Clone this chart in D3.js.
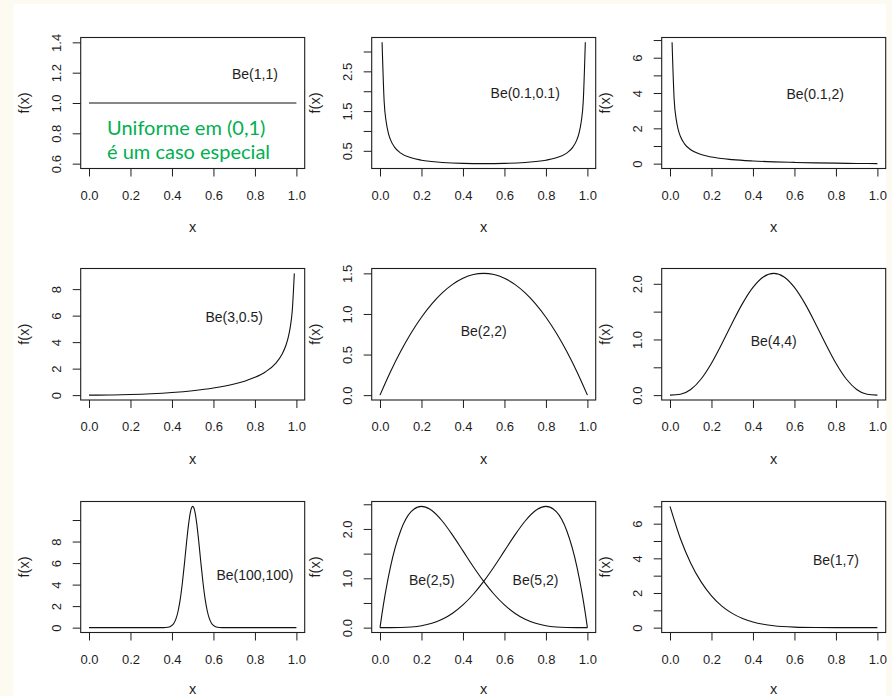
<!DOCTYPE html>
<html>
<head>
<meta charset="utf-8">
<script src="https://cdn.jsdelivr.net/npm/d3@7"></script>
<style>
  body { margin: 0; background: #fcfaf1; }
  svg { display: block; }
</style>
</head>
<body>
<div id="chart"></div>
<script>
// Data
const xTicks = [0, 0.2, 0.4, 0.6, 0.8, 1]
const xTickLabels = ['0.0', '0.2', '0.4', '0.6', '0.8', '1.0']

const be11X = [0, 1]
const be11Y = [1, 1]
const be11Ylim = [0.6, 1.4]
const be11Ticks = [0.6, 0.8, 1.0, 1.2, 1.4]
const be11Labels = ['0.6', '0.8', '1.0', '1.2', '1.4']

const be0101X = [0.01, 0.02, 0.03, 0.04, 0.05, 0.07, 0.1, 0.15, 0.2, 0.3, 0.4, 0.5, 0.6, 0.7, 0.8, 0.85, 0.9, 0.93, 0.95, 0.96, 0.97, 0.98, 0.99]
const be0101Y = [3.23, 1.747, 1.224, 0.954, 0.788, 0.593, 0.443, 0.324, 0.264, 0.207, 0.183, 0.177, 0.183, 0.207, 0.264, 0.324, 0.443, 0.593, 0.788, 0.954, 1.224, 1.747, 3.23]
const be0101Ticks = [0.5, 1, 1.5, 2, 2.5, 3]
const be0101Labels = ['0.5', '', '1.5', '', '2.5', '']

const be012X = [0.01, 0.02, 0.03, 0.04, 0.05, 0.07, 0.1, 0.15, 0.2, 0.3, 0.4, 0.5, 0.6, 0.7, 0.8, 0.9, 1]
const be012Y = [6.87, 3.645, 2.504, 1.913, 1.549, 1.12, 0.786, 0.516, 0.375, 0.228, 0.151, 0.103, 0.07, 0.046, 0.027, 0.012, 0]
const be012Ticks = [0, 1, 2, 3, 4, 5, 6, 7]
const be012Labels = ['0', '', '2', '', '4', '', '6', '']

const be305X = [0, 0.1, 0.2, 0.3, 0.4, 0.5, 0.6, 0.7, 0.75, 0.8, 0.85, 0.9, 0.93, 0.95, 0.96, 0.97, 0.98, 0.99]
const be305Y = [0, 0.01, 0.042, 0.101, 0.194, 0.332, 0.534, 0.839, 1.055, 1.342, 1.749, 2.401, 3.065, 3.784, 4.32, 5.093, 6.367, 9.19]
const be305Ticks = [0, 2, 4, 6, 8]
const be305Labels = ['0', '2', '4', '6', '8']

const be22X = [0, 0.05, 0.1, 0.15, 0.2, 0.25, 0.3, 0.35, 0.4, 0.45, 0.5, 0.55, 0.6, 0.65, 0.7, 0.75, 0.8, 0.85, 0.9, 0.95, 1]
const be22Y = [0, 0.285, 0.54, 0.765, 0.96, 1.125, 1.26, 1.365, 1.44, 1.485, 1.5, 1.485, 1.44, 1.365, 1.26, 1.125, 0.96, 0.765, 0.54, 0.285, 0]
const be22Ticks = [0, 0.5, 1, 1.5]
const be22Labels = ['0.0', '0.5', '1.0', '1.5']

const be44X = [0, 0.05, 0.1, 0.15, 0.2, 0.25, 0.3, 0.35, 0.4, 0.45, 0.5, 0.55, 0.6, 0.65, 0.7, 0.75, 0.8, 0.85, 0.9, 0.95, 1]
const be44Y = [0, 0.015, 0.102, 0.29, 0.573, 0.923, 1.297, 1.648, 1.935, 2.123, 2.1875, 2.123, 1.935, 1.648, 1.297, 0.923, 0.573, 0.29, 0.102, 0.015, 0]
const be44Ticks = [0, 0.5, 1, 1.5, 2]
const be44Labels = ['0.0', '', '1.0', '', '2.0']

const be100X = [0, 0.35, 0.36, 0.37, 0.38, 0.39, 0.4, 0.41, 0.42, 0.43, 0.44, 0.45, 0.46, 0.47, 0.48, 0.49, 0.5,
  0.51, 0.52, 0.53, 0.54, 0.55, 0.56, 0.57, 0.58, 0.59, 0.6, 0.61, 0.62, 0.63, 0.64, 0.65, 1]
const be100Y = [0, 0.001, 0.004, 0.013, 0.035, 0.087, 0.203, 0.44, 0.861, 1.57, 2.65, 4.13, 5.92, 7.85, 9.6, 10.83, 11.27,
  10.83, 9.6, 7.85, 5.92, 4.13, 2.65, 1.57, 0.861, 0.44, 0.203, 0.087, 0.035, 0.013, 0.004, 0.001, 0]
const be100Ticks = [0, 2, 4, 6, 8, 10]
const be100Labels = ['0', '2', '4', '6', '8', '']

const be25X = [0, 0.01, 0.025, 0.05, 0.1, 0.15, 0.2, 0.25, 0.3, 0.35, 0.4, 0.45, 0.5, 0.55, 0.6, 0.65, 0.7, 0.75, 0.8, 0.85, 0.9, 0.95, 1]
const be25Y = [0, 0.288, 0.678, 1.222, 1.968, 2.349, 2.458, 2.373, 2.161, 1.874, 1.555, 1.235, 0.938, 0.677, 0.461, 0.293, 0.17, 0.088, 0.038, 0.013, 0.003, 0.0002, 0]
const be52X = [0, 0.05, 0.1, 0.15, 0.2, 0.25, 0.3, 0.35, 0.4, 0.45, 0.5, 0.55, 0.6, 0.65, 0.7, 0.75, 0.8, 0.85, 0.9, 0.95, 0.975, 0.99, 1]
const be52Y = [0, 0.0002, 0.003, 0.013, 0.038, 0.088, 0.17, 0.293, 0.461, 0.677, 0.938, 1.235, 1.555, 1.874, 2.161, 2.373, 2.458, 2.349, 1.968, 1.222, 0.678, 0.288, 0]
const be25Ticks = [0, 0.5, 1, 1.5, 2, 2.5]
const be25Labels = ['0.0', '', '1.0', '', '2.0', '']

const be17X = [0, 0.05, 0.1, 0.15, 0.2, 0.25, 0.3, 0.35, 0.4, 0.45, 0.5, 0.6, 0.7, 0.8, 1]
const be17Y = [7, 5.146, 3.72, 2.64, 1.835, 1.246, 0.824, 0.528, 0.327, 0.194, 0.109, 0.029, 0.005, 0.0004, 0]
const be17Ticks = [0, 1, 2, 3, 4, 5, 6, 7]
const be17Labels = ['0', '', '2', '', '4', '', '6', '']

// curve names and where they sit (data coords)
const noteText = ['Be(1,1)', 'Be(0.1,0.1)', 'Be(0.1,2)', 'Be(3,0.5)', 'Be(2,2)', 'Be(4,4)', 'Be(100,100)', 'Be(2,5)', 'Be(5,2)', 'Be(1,7)']
const noteX = [0.8, 0.7, 0.7, 0.7, 0.5, 0.5, 0.8, 0.25, 0.75, 0.8]
const noteY = [1.2, 2, 4, 6, 0.8, 1, 5, 1, 1, 4]
const notePanel = [0, 1, 2, 3, 4, 5, 6, 7, 7, 8]

const greenLines = ['Uniforme em (0,1)', 'é um caso especial']
const greenY = [0.836, 0.68]

function draw() {
  // Dimensions
  const dimensions = {
    width: 892,
    height: 696,
    colLefts: [80.7, 371.7, 661.7],
    boxWidth: 224,
    rowTops: [37.5, 268.5, 501.5],
    rowBottoms: [168.5, 400, 632.5]
  }

  const panels = [
    { series: [[be11X, be11Y]], ylim: be11Ylim, ticks: be11Ticks, labels: be11Labels },
    { series: [[be0101X, be0101Y]], ticks: be0101Ticks, labels: be0101Labels },
    { series: [[be012X, be012Y]], ticks: be012Ticks, labels: be012Labels },
    { series: [[be305X, be305Y]], ticks: be305Ticks, labels: be305Labels },
    { series: [[be22X, be22Y]], ticks: be22Ticks, labels: be22Labels },
    { series: [[be44X, be44Y]], ticks: be44Ticks, labels: be44Labels },
    { series: [[be100X, be100Y]], ticks: be100Ticks, labels: be100Labels },
    { series: [[be25X, be25Y], [be52X, be52Y]], ticks: be25Ticks, labels: be25Labels },
    { series: [[be17X, be17Y]], ticks: be17Ticks, labels: be17Labels }
  ]

  const svg = d3.select('#chart')
    .append('svg')
    .attr('width', dimensions.width)
    .attr('height', dimensions.height)

  svg.append('rect')
    .attr('x', 13.5)
    .attr('y', 4)
    .attr('width', 872.5)
    .attr('height', dimensions.height - 4)
    .attr('fill', 'white')

  const ink = '#1e1e1e'
  const font = "'Liberation Sans', Arial, sans-serif"

  panels.forEach((p, i) => {
    const left = dimensions.colLefts[i % 3]
    const right = left + dimensions.boxWidth
    const top = dimensions.rowTops[Math.floor(i / 3)]
    const bottom = dimensions.rowBottoms[Math.floor(i / 3)]

    // Scales (R style: 4% padding)
    const xScale = d3.scaleLinear()
      .domain([-0.04, 1.04])
      .range([left, right])

    const ext = p.ylim || d3.extent(p.series.flatMap(s => s[1]))
    const pad = (ext[1] - ext[0]) * 0.04
    const yScale = d3.scaleLinear()
      .domain([ext[0] - pad, ext[1] + pad])
      .range([bottom, top])

    const g = svg.append('g')

    // Curves
    const lineGenerator = d3.line()
      .x(d => xScale(d[0]))
      .y(d => yScale(d[1]))
      .curve(d3.curveMonotoneX)

    p.series.forEach(s => {
      g.append('path')
        .datum(d3.zip(s[0], s[1]))
        .attr('d', lineGenerator)
        .attr('fill', 'none')
        .attr('stroke', '#111')
        .attr('stroke-width', 1.1)
    })

    // Axes
    const xAxis = d3.axisBottom(xScale)
      .tickValues(xTicks)
      .tickFormat((d, k) => xTickLabels[k])
      .tickSize(8)

    const xAxisGroup = g.append('g')
      .attr('transform', `translate(0,${bottom})`)
      .call(xAxis)
      .attr('font-family', font)
      .attr('font-size', 13)
      .attr('color', ink)
    xAxisGroup.select('.domain').remove()
    xAxisGroup.selectAll('text')
      .attr('y', 26.5)
      .attr('dy', '0.36em')

    const yAxis = d3.axisLeft(yScale)
      .tickValues(p.ticks)
      .tickFormat((d, k) => p.labels[k])
      .tickSize(8)

    const yAxisGroup = g.append('g')
      .attr('transform', `translate(${left},0)`)
      .call(yAxis)
      .attr('font-family', font)
      .attr('font-size', 13)
      .attr('color', ink)
    yAxisGroup.select('.domain').remove()
    yAxisGroup.selectAll('text')
      .attr('transform', 'rotate(-90)')
      .attr('x', 0)
      .attr('y', -24)
      .attr('dy', '0.36em')
      .attr('text-anchor', 'middle')

    // Box
    g.append('rect')
      .attr('x', left)
      .attr('y', top)
      .attr('width', right - left)
      .attr('height', bottom - top)
      .attr('fill', 'none')
      .attr('stroke', ink)
      .attr('stroke-width', 1.1)

    // Axis titles
    g.append('text')
      .attr('transform', `translate(${left - 56.7},${(top + bottom) / 2}) rotate(-90)`)
      .attr('text-anchor', 'middle')
      .attr('dy', '0.36em')
      .attr('font-family', font)
      .attr('font-size', 14.5)
      .attr('fill', ink)
      .text('f(x)')

    // keep the bottom row's x title inside the page
    g.append('text')
      .attr('x', (left + right) / 2)
      .attr('y', Math.min(bottom + 59.5, dimensions.height - 6))
      .attr('text-anchor', 'middle')
      .attr('dy', '0.3em')
      .attr('font-family', font)
      .attr('font-size', 14.5)
      .attr('fill', ink)
      .text('x')

    // Curve names
    noteText.forEach((t, k) => {
      if (notePanel[k] !== i) return
      g.append('text')
        .attr('x', xScale(noteX[k]))
        .attr('y', yScale(noteY[k]))
        .attr('dy', '0.45em')
        .attr('text-anchor', 'middle')
        .attr('font-family', font)
        .attr('font-size', 14)
        .attr('fill', ink)
        .text(t)
    })

    // Green note on the uniform panel
    if (i === 0) {
      greenLines.forEach((t, k) => {
        g.append('text')
          .attr('x', xScale(0.087))
          .attr('y', yScale(greenY[k]))
          .attr('dy', '0.36em')
          .attr('font-family', 'Lato, sans-serif')
          .attr('font-size', 20)
          .attr('fill', '#00b050')
          .text(t)
      })
    }
  })
}

draw()
</script>
</body>
</html>
